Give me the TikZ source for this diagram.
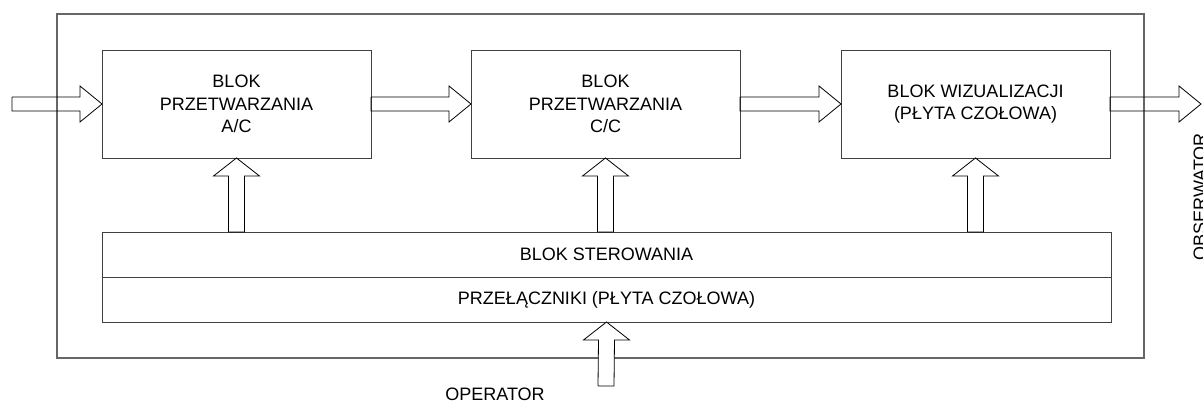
\documentclass[tikz,border=0pt]{standalone}
\usepackage{fontspec}
\setmainfont{Liberation Sans}
\usetikzlibrary{positioning, calc}

\tikzset{
  blok/.style={draw=black!75, line width=0.9pt, outer sep=0pt, inner sep=0pt,
    minimum width=269pt, minimum height=108pt, align=center},
  pas/.style={draw=black!75, line width=0.9pt, outer sep=0pt, inner sep=0pt,
    minimum width=1009pt, minimum height=45pt},
  harr/.style={draw, line width=0.8pt, to path={
    ($(\tikztostart)+(0,-7)$) -- ($(\tikztotarget)+(-22,-7)$) -- ($(\tikztotarget)+(-22,-18)$)
    -- (\tikztotarget) -- ($(\tikztotarget)+(-22,18)$) -- ($(\tikztotarget)+(-22,7)$)
    -- ($(\tikztostart)+(0,7)$) -- ($(\tikztostart)+(0,-7)$)}},
  varr/.style={draw, line width=0.8pt, to path={
    ($(\tikztostart)+(-8,0)$) -- ($(\tikztotarget)+(-8,18)$) -- ($(\tikztotarget)+(-23,18)$)
    -- (\tikztotarget) -- ($(\tikztotarget)+(23,18)$) -- ($(\tikztotarget)+(8,18)$)
    -- ($(\tikztostart)+(8,0)$) -- ($(\tikztostart)+(-8,0)$)}}
}

\begin{document}
\begin{tikzpicture}[x=1pt, y=-1pt, every node/.style={font=\fontsize{18}{22.5}\selectfont}]
				\useasboundingbox (0,0) rectangle (1203,403);
				\node[draw=black!60, line width=1.1pt, minimum width=1087pt, minimum height=344pt, inner sep=0pt] (ramka) at (600.5,186) {};
				\node[blok] (b1) at (236.5,104) {BLOK\\PRZETWARZANIA\\A/C};
				\node[blok, right=100pt of b1] (b2) {BLOK\\PRZETWARZANIA\\C/C};
				\node[blok, right=101pt of b2] (b3) {BLOK WIZUALIZACJI\\(PŁYTA CZOŁOWA)};
				\node[pas] (ster) at (606.5,254.5) {BLOK STEROWANIA};
				\node[pas, below=0pt of ster] (przel) {PRZEŁĄCZNIKI (PŁYTA CZOŁOWA)};
				\coordinate (wej) at (12,104);
				\coordinate (wyj) at (1201,104);
				\coordinate (op) at (606,386);
				\coordinate (s1) at (ster.north -| b1.south);
				\coordinate (s2) at (ster.north -| b2.south);
				\coordinate (s3) at (ster.north -| b3.south);
				\node[anchor=base] (operator) at (495,401) {OPERATOR};
				\node[anchor=base, rotate=90] (obserwator) at (1206,197) {OBSERWATOR};
				\draw[harr] (wej) to (b1.west)
						(b1.east) to (b2.west)
						(b2.east) to (b3.west)
						(b3.east) to (wyj);
				\draw[varr] (s1) to (b1.south)
						(s2) to (b2.south)
						(s3) to (b3.south);
				\draw[varr, fill=white] (op) to (przel.south);
			\end{tikzpicture}
\end{document}
